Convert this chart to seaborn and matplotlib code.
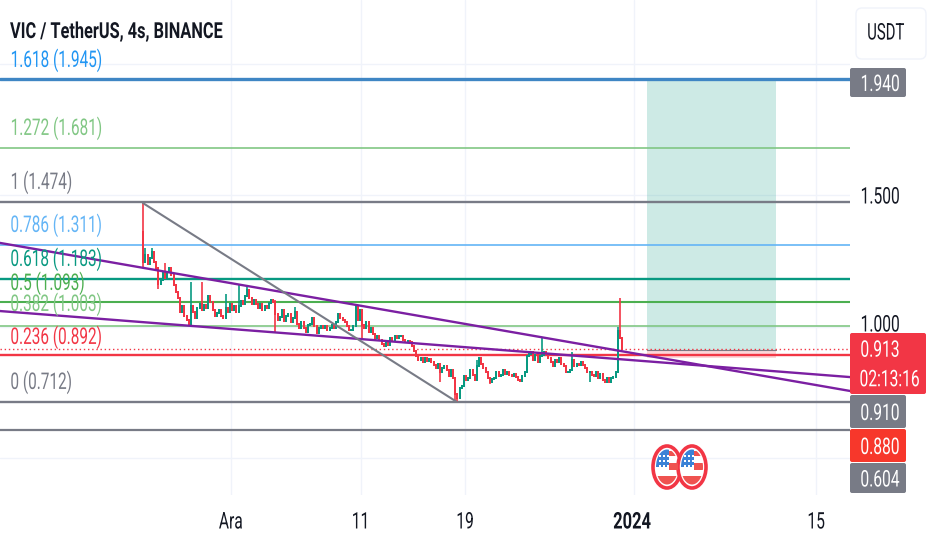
import numpy as np
import pandas as pd
import matplotlib
matplotlib.use('Agg')
import matplotlib.pyplot as plt
from matplotlib.patches import Ellipse, FancyBboxPatch, Rectangle
from matplotlib.patheffects import AbstractPathEffect
from matplotlib.transforms import Affine2D
import seaborn as sns

# fibonacci levels: label, price, colour, line width
fib_labels = ['1.618 (1.945)', '1.272 (1.681)', '1 (1.474)', '0.786 (1.311)', '0.618 (1.183)',
              '0.5 (1.093)', '0.382 (1.003)', '0.236 (0.892)', '0 (0.712)']
fib_prices = [1.945, 1.681, 1.474, 1.311, 1.183, 1.093, 1.003, 0.892, 0.712]
fib_colors = ['#3f86c4', '#81c784', '#787b86', '#64b5f6', '#089981', '#4caf50', '#81c784', '#f23645', '#787b86']
fib_text_colors = ['#2196f3', '#81c784', '#787b86', '#64b5f6', '#089981', '#4caf50', '#81c784', '#f23645', '#787b86']
fib_widths = [2.4, 1.2, 1.7, 1.2, 1.7, 1.5, 1.2, 1.7, 1.7]

first_open = 1.361
closes = [1.246, 1.273, 1.239, 1.262, 1.285, 1.246, 1.223, 1.162, 1.178, 1.204,
          1.185, 1.208, 1.223, 1.197, 1.159, 1.132, 1.109, 1.056, 1.078, 1.040,
          1.025, 1.010, 1.078, 1.056, 1.033, 1.071, 1.086, 1.063, 1.082, 1.071,
          1.117, 1.094, 1.063, 1.040, 1.052, 1.063, 1.040, 1.033, 1.071, 1.056,
          1.086, 1.063, 1.078, 1.056, 1.078, 1.098, 1.086, 1.117, 1.139, 1.109,
          1.086, 1.101, 1.086, 1.071, 1.086, 1.063, 1.078, 1.071, 1.090, 1.101,
          1.094, 1.048, 1.025, 1.036, 1.063, 1.021, 1.040, 1.048, 1.017, 1.033,
          1.056, 1.010, 0.994, 1.017, 0.994, 0.979, 1.006, 1.010, 1.033, 1.002,
          0.975, 0.994, 1.002, 0.994, 1.002, 0.987, 0.994, 1.006, 0.994, 1.017,
          1.048, 1.033, 1.025, 1.017, 1.002, 0.987, 0.987, 1.002, 1.078, 1.025,
          1.063, 1.006, 0.994, 1.017, 0.979, 0.994, 0.972, 0.956, 0.964, 0.949,
          0.933, 0.926, 0.941, 0.930, 0.956, 0.949, 0.964, 0.956, 0.964, 0.964,
          0.949, 0.941, 0.945, 0.941, 0.926, 0.907, 0.888, 0.872, 0.880, 0.865,
          0.880, 0.868, 0.876, 0.865, 0.853, 0.842, 0.857, 0.827, 0.842, 0.849,
          0.834, 0.811, 0.834, 0.804, 0.743, 0.727, 0.765, 0.773, 0.811, 0.796,
          0.804, 0.834, 0.815, 0.796, 0.849, 0.880, 0.857, 0.842, 0.827, 0.804,
          0.788, 0.800, 0.804, 0.827, 0.811, 0.815, 0.834, 0.819, 0.827, 0.815,
          0.811, 0.819, 0.807, 0.796, 0.792, 0.811, 0.827, 0.888, 0.895, 0.903,
          0.872, 0.891, 0.865, 0.888, 0.891, 0.903, 0.895, 0.880, 0.865, 0.849,
          0.872, 0.865, 0.880, 0.857, 0.849, 0.827, 0.827, 0.834, 0.872, 0.849,
          0.857, 0.853, 0.865, 0.853, 0.842, 0.827, 0.827, 0.815, 0.811, 0.827,
          0.804, 0.819, 0.796, 0.788, 0.804, 0.788, 0.804, 0.807, 0.827, 0.985,
          0.956, 0.913]
# the wicks that stand out from the bodies
spike_highs = {0: 1.471, 1: 1.300, 4: 1.300, 10: 1.243, 22: 1.170, 27: 1.170, 38: 1.124, 44: 1.162,
               48: 1.155, 61: 1.101, 70: 1.075, 90: 1.052, 98: 1.082, 154: 0.872, 155: 0.885,
               184: 0.960, 198: 0.903, 219: 0.998, 220: 1.109}
spike_lows = {0: 1.223, 7: 1.143, 21: 1.002, 61: 0.975, 101: 0.949, 137: 0.788, 144: 0.720,
              145: 0.712, 160: 0.780, 206: 0.790}

first_day = -6.75
bars_per_day = 6

trend_days = [-17.77, 47.62]
upper_trend = [1.319, 0.754]
lower_trend = [1.059, 0.807]
drop_days = [-6.77, 17.38]
drop_prices = [1.471, 0.712]

target_days = [32.0, 41.92]
target_top = 1.940
entry_price = 0.910
stop_price = 0.880
last_price = 0.913
low_level = 0.604
grid_prices = [0.5, 1.0, 1.5, 2.0]
tick_days = [0, 10, 18, 31, 45]
tick_labels = ['Ara', '11', '19', '2024', '15']
event_px = [667, 692]

green = '#089981'
red = '#f23645'
gray_box = '#787b86'


class Narrow(AbstractPathEffect):
    # squeezes glyphs sideways, the reference text is tall and condensed
    def __init__(self, sx, anchor='left'):
        super().__init__()
        self.sx = sx
        self.anchor = anchor

    def draw_path(self, renderer, gc, tpath, affine, rgbFace=None):
        ext = tpath.get_extents(affine)
        x0 = ext.x0 if self.anchor == 'left' else ext.x0 + ext.width / 2
        squeeze = Affine2D().translate(-x0, 0).scale(self.sx, 1).translate(x0, 0)
        renderer.draw_path(gc, tpath, affine + squeeze, rgbFace)


sns.set_theme(style='white')
plt.rcParams['font.family'] = ['Roboto', 'DejaVu Sans']

fig = plt.figure(figsize=(9.32, 5.5), dpi=100)
ax = fig.add_axes([0, 55 / 550, 850 / 932, 495 / 550])
ax.set_xlim(-17.769, 47.615)
ax.set_ylim(0.357, 2.246)

for g in grid_prices:
    ax.axhline(g, color='#f0f3fa', lw=1, zorder=0)
for d in tick_days:
    ax.axvline(d, color='#f0f3fa', lw=1, zorder=0)

# target box of the long position
ax.add_patch(Rectangle((target_days[0], entry_price), target_days[1] - target_days[0], target_top - entry_price,
                       color=green, alpha=0.2, lw=0, zorder=1))
ax.add_patch(Rectangle((target_days[0], stop_price), target_days[1] - target_days[0], entry_price - stop_price,
                       color=red, alpha=0.2, lw=0, zorder=1))
ax.plot(target_days, [entry_price, entry_price], color=gray_box, lw=0.8, zorder=2)

xlim = list(ax.get_xlim())
for p, c, w in zip(fib_prices, fib_colors, fib_widths):
    df = pd.DataFrame({'day': xlim, 'price': [p, p]})
    sns.lineplot(data=df, x='day', y='price', color=c, linewidth=w, ax=ax, zorder=2, legend=False)
df = pd.DataFrame({'day': xlim, 'price': [low_level, low_level]})
sns.lineplot(data=df, x='day', y='price', color=gray_box, linewidth=1.6, ax=ax, zorder=2, legend=False)
ax.plot(xlim, [last_price, last_price], color=red, lw=1, ls=(0, (1, 2)), zorder=2)

# candles, each opens at the previous close
closes_arr = np.array(closes)
opens = np.r_[first_open, closes_arr[:-1]]
highs = np.maximum(opens, closes_arr)
lows = np.minimum(opens, closes_arr)
for k, v in spike_highs.items():
    highs[k] = v
for k, v in spike_lows.items():
    lows[k] = v
days = first_day + np.arange(len(closes)) / bars_per_day
colors = [green if c >= o else red for o, c in zip(opens, closes_arr)]
ax.vlines(days, lows, highs, colors=colors, lw=1.2, zorder=3)
ax.bar(days, np.abs(closes_arr - opens) + 0.006, bottom=np.minimum(opens, closes_arr) - 0.003,
       width=0.9 / bars_per_day, color=colors, lw=0, zorder=3)

for vals in (upper_trend, lower_trend):
    df = pd.DataFrame({'day': trend_days, 'price': vals})
    sns.lineplot(data=df, x='day', y='price', color='#7b1fa2', linewidth=1.7, ax=ax, zorder=4, legend=False)
df = pd.DataFrame({'day': drop_days, 'price': drop_prices})
sns.lineplot(data=df, x='day', y='price', color=gray_box, linewidth=1.5, ax=ax, zorder=4, legend=False)

ax.set_xlabel('')
ax.set_ylabel('')
ax.set_xticks([])
ax.set_yticks([])
for s in ax.spines.values():
    s.set_visible(False)
ax.patch.set_alpha(0)

# everything around the plot area, in pixels of the picture
over = fig.add_axes([0, 0, 1, 1], facecolor='none')
over.set_xlim(0, 932)
over.set_ylim(550, 0)
over.axis('off')

FS = 16.5
SX = 0.68
over.text(10, 32, 'VIC / TetherUS, 4s, BINANCE', fontsize=15.9, fontweight='bold', color='#131722', va='center',
          path_effects=[Narrow(0.74)])
label_y = [60, 128, 182, 225, 259, 283, 304, 337, 382]
for txt, y, c in zip(fib_labels, label_y, fib_text_colors):
    over.text(10, y, txt, fontsize=FS, color=c, va='center', path_effects=[Narrow(0.67)])

for d, txt in zip(tick_days, tick_labels):
    px = 231 + 13 * d
    bold = txt == '2024'
    over.text(px - 2 if bold else px, 522, txt, fontsize=FS, color='#131722', ha='center', va='center',
              fontweight='bold' if bold else 'normal', path_effects=[Narrow(0.72 if bold else SX, 'center')])

over.text(860, 197, '1.500', fontsize=FS, color='#131722', va='center', path_effects=[Narrow(SX)])
over.text(860, 325, '1.000', fontsize=FS, color='#131722', va='center', path_effects=[Narrow(SX)])


def price_box(y0, y1, lines, color, right=906):
    over.add_patch(FancyBboxPatch((850, y0), right - 850, y1 - y0, boxstyle='round,pad=0,rounding_size=2',
                                  fc=color, ec='none', zorder=5))
    step = (y1 - y0) / len(lines)
    for i, t in enumerate(lines):
        if len(t) > 5:
            over.text(889.5, y0 + step * (i + 0.5) + 1, t, fontsize=FS, color='white', ha='center', va='center',
                      zorder=6, path_effects=[Narrow(SX, 'center')])
        else:
            over.text(860, y0 + step * (i + 0.5) + 2, t, fontsize=FS, color='white', va='center', zorder=6,
                      path_effects=[Narrow(SX)])


price_box(68, 97, ['1.940'], gray_box)
price_box(395, 428, ['0.910'], gray_box)
price_box(463, 493, ['0.604'], gray_box)
price_box(429, 462, ['0.880'], '#f7372b')
price_box(333, 394, ['0.913', '02:13:16'], red, right=926)

over.add_patch(FancyBboxPatch((856, 8), 70, 51, boxstyle='round,pad=0,rounding_size=6',
                              fc='white', ec='#f0f3fa', lw=1, zorder=5))
over.text(885.5, 33, 'USDT', fontsize=FS, color='#131722', ha='center', va='center', zorder=6,
          path_effects=[Narrow(0.65, 'center')])


def flag(cx, cy=467, w=28, h=42):
    over.add_patch(Ellipse((cx, cy), w, h, fc='white', ec=red, lw=2.6, zorder=7))
    clip = Ellipse((cx, cy), w - 6, h - 7, transform=over.transData)
    parts = [
        Rectangle((cx - w / 2, cy - h / 2), w / 2 + 2, h / 2, fc='#3b82d6'),
        Rectangle((cx + 2, cy - h / 2 + 5), w / 2, 5, fc='#ef5350'),
        Rectangle((cx + 2, cy - 4), w / 2, 7, fc='#ef5350'),
        Rectangle((cx - w / 2, cy + 9), w, 10, fc='#ef5350'),
    ]
    for part in parts:
        part.set_linewidth(0)
        part.set_zorder(8)
        over.add_patch(part)
        part.set_clip_path(clip)
    for sx in (-7, -3, 1):
        for sy in (-10, -5, 0):
            over.plot(cx + sx, cy + sy - 1, 's', ms=2, mew=0, color='white', zorder=9)


for px in event_px:
    flag(px)

fig.savefig('out.png', dpi=100, facecolor='white')
